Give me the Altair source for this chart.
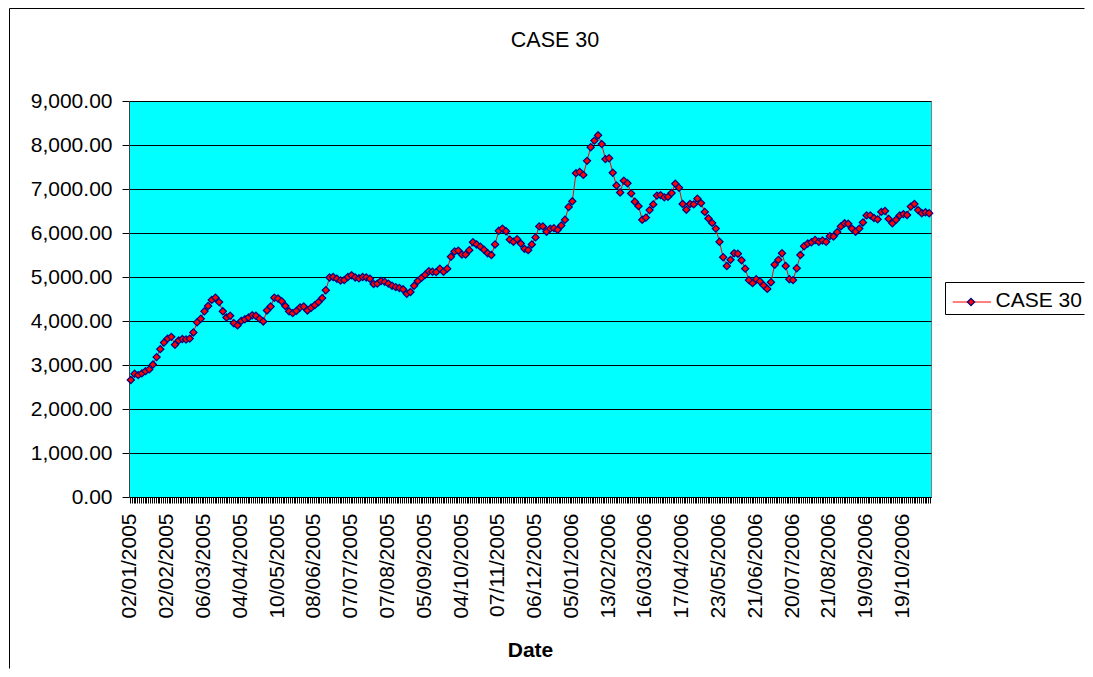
import altair as alt
import pandas as pd

title_text = "CASE 30"
series_name = "CASE 30"
x_title = "Date"
n_categories = 436
label_every = 20
tick_labels = ["02/01/2005", "02/02/2005", "06/03/2005", "04/04/2005", "10/05/2005",
               "08/06/2005", "07/07/2005", "07/08/2005", "05/09/2005", "04/10/2005",
               "07/11/2005", "06/12/2005", "05/01/2006", "13/02/2006", "16/03/2006",
               "17/04/2006", "23/05/2006", "21/06/2006", "20/07/2006", "21/08/2006",
               "19/09/2006", "19/10/2006"]
y_ticks = [0, 1000, 2000, 3000, 4000, 5000, 6000, 7000, 8000, 9000]

# index value read every second trading day
values = [
    2660, 2800, 2770, 2810, 2860, 2900, 3010, 3180, 3360, 3510,
    3600, 3640, 3460, 3560, 3590, 3580, 3600, 3740, 3970, 4050,
    4220, 4340, 4480, 4530, 4430, 4220, 4080, 4120, 3950, 3900,
    4000, 4040, 4080, 4130, 4120, 4050, 3990, 4240, 4330, 4530,
    4510, 4450, 4340, 4220, 4180, 4230, 4310, 4330, 4240, 4300,
    4360, 4430, 4520, 4700, 4990, 5000, 4960, 4920, 4930, 5000,
    5040, 4990, 4970, 5000, 4990, 4960, 4840, 4850, 4910, 4890,
    4850, 4800, 4770, 4750, 4720, 4620, 4660, 4800, 4910, 4980,
    5050, 5130, 5120, 5110, 5190, 5120, 5190, 5460, 5580, 5600,
    5510, 5510, 5610, 5790, 5740, 5690, 5620, 5540, 5500, 5740,
    6050, 6100, 6040, 5850, 5800, 5860, 5760, 5640, 5610, 5740,
    5900, 6150, 6150, 6030, 6100, 6110, 6070, 6170, 6300, 6590,
    6720, 7360, 7390, 7320, 7640, 7950, 8100, 8220, 8020, 7680,
    7700, 7370, 7080, 6920, 7190, 7130, 6900, 6710, 6610, 6300,
    6350, 6520, 6650, 6850, 6860, 6810, 6820, 6910, 7120, 7030,
    6660, 6530, 6660, 6650, 6780, 6680, 6480, 6330, 6230, 6100,
    5800, 5450, 5250, 5390, 5540, 5530, 5380, 5190, 4930, 4860,
    4950, 4900, 4810, 4730, 4880, 5280, 5390, 5540, 5250, 4950,
    4930, 5200, 5500, 5700, 5760, 5790, 5840, 5800, 5830, 5800,
    5930, 5920, 6020, 6150, 6220, 6210, 6100, 6030, 6100, 6240,
    6400, 6400, 6340, 6310, 6480, 6500, 6320, 6220, 6300, 6400,
    6430, 6410, 6600, 6660, 6520, 6450, 6470, 6450,
]
positions = [2 * i + 1 for i in range(len(values))]

df = pd.DataFrame({"pos": positions, "value": values})
deco = alt.Data(values=[{"k": 0}])

W, H = 802, 396
FONT = "Liberation Sans"
MARKER = 52
RIGHT_END = 955.5   # last pixel column inside the drawing, in plot coordinates
BOTTOM_END = 567.5  # last pixel row inside the drawing, in plot coordinates

labels_js = "[" + ",".join("'" + s + "'" for s in tick_labels) + "]"
label_expr = (
    f"(round(datum.value - 0.5) % {label_every} == 0) ? "
    f"{labels_js}[round(datum.value - 0.5) / {label_every}] : ''"
)

x_enc = alt.X(
    "pos:Q",
    scale=alt.Scale(domain=[0, n_categories], nice=False, zero=False),
    axis=alt.Axis(
        values=[i + 0.5 for i in range(n_categories)],
        tickCount=2000,
        labelExpr=label_expr,
        labelAngle=270,
        labelFontSize=21,
        labelPadding=10,
        labelOverlap=False,
        labelFlush=False,
        labelColor="black",
        tickSize=6,
        tickColor="black",
        tickWidth=1,
        domainColor="black",
        grid=False,
        title=x_title,
        titleFontSize=21,
        titleFontWeight="bold",
        titleColor="black",
        titleX=W / 2,
        titleY=159,
        titleBaseline="alphabetic",
        titleAlign="center",
    ),
)
y_enc = alt.Y(
    "value:Q",
    scale=alt.Scale(domain=[0, 9000], nice=False),
    axis=alt.Axis(
        values=y_ticks,
        format=",.2f",
        labelFontSize=21,
        labelPadding=10,
        labelColor="black",
        tickSize=7,
        tickColor="black",
        domainColor="#404040",
        grid=True,
        gridColor="black",
        gridWidth=1,
        title=None,
    ),
)

base = alt.Chart(df)
line = base.mark_line(color="#FF0000", strokeWidth=1).encode(x=x_enc, y=y_enc)
points = base.mark_point(
    shape="diamond", filled=True, fill="#FF0000", stroke="#000080",
    strokeWidth=1.2, size=MARKER, opacity=1, fillOpacity=1,
).encode(x="pos:Q", y="value:Q")


def hrule(x1, x2, y, color="black"):
    return alt.Chart(deco).mark_rule(color=color, strokeWidth=1).encode(
        x=alt.value(x1), x2=alt.value(x2), y=alt.value(y))


def vrule(x, y1, y2, color="black"):
    return alt.Chart(deco).mark_rule(color=color, strokeWidth=1).encode(
        x=alt.value(x), y=alt.value(y1), y2=alt.value(y2))


frame_top = hrule(-119.5, RIGHT_END, -92.5)
frame_left = vrule(-119.5, -92.5, BOTTOM_END)

title = alt.Chart(deco).mark_text(
    text=title_text, align="center", baseline="alphabetic", fontSize=21.5, color="black", font=FONT
).encode(x=alt.value(426), y=alt.value(-54.5))

leg_fill = alt.Chart(deco).mark_rect(fill="white", strokeWidth=0).encode(
    x=alt.value(816.5), x2=alt.value(RIGHT_END), y=alt.value(181.5), y2=alt.value(213.5)
)
leg_top = hrule(816.5, RIGHT_END, 181.5)
leg_bottom = hrule(816.5, RIGHT_END, 213.5)
leg_left = vrule(816.5, 181.5, 213.5)
leg_line = hrule(823.7, 862, 201, color="#FF0000")
leg_pt = alt.Chart(deco).mark_point(
    shape="diamond", filled=True, fill="#FF0000", stroke="#000080",
    strokeWidth=1.2, size=MARKER, opacity=1, fillOpacity=1,
).encode(x=alt.value(842), y=alt.value(201))
leg_text = alt.Chart(deco).mark_text(
    text=series_name, align="left", baseline="alphabetic", fontSize=21, color="black", font=FONT
).encode(x=alt.value(866.5), y=alt.value(206.3))

chart = alt.layer(
    frame_top, frame_left, line, points, title,
    leg_fill, leg_top, leg_bottom, leg_left, leg_line, leg_pt, leg_text,
).properties(
    width=W,
    height=H,
    autosize=alt.AutoSizeParams(type="none"),
    padding={"left": 121, "top": 93, "right": 154, "bottom": 172},
    background="white",
).configure(font=FONT).configure_view(fill="#00FFFF", stroke="#808080", strokeWidth=1)

chart.save("out.html", embed_options={"renderer": "svg", "actions": False})
